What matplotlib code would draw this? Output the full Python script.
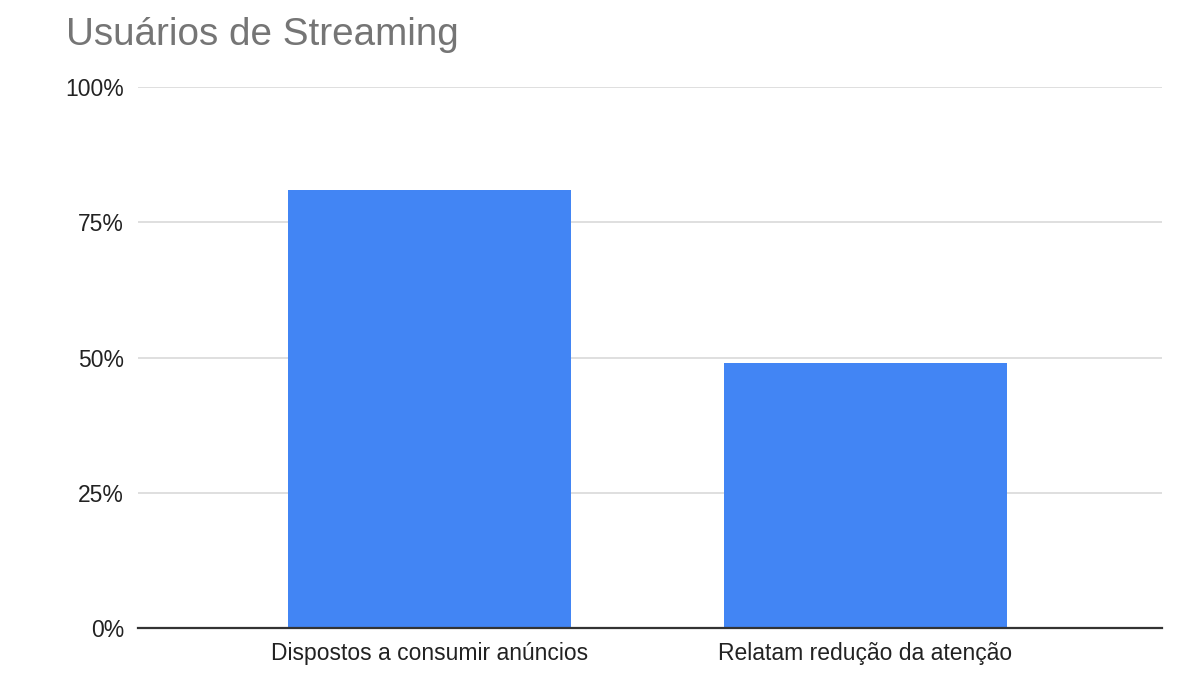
import matplotlib.pyplot as plt
from matplotlib.ticker import FuncFormatter

# dados
categorias = ['Dispostos a consumir anúncios', 'Relatam redução da atenção']
valores = [81, 49]
yticks = [0, 25, 50, 75, 100]

plt.rcParams['font.family'] = ['Liberation Sans', 'DejaVu Sans']

fig = plt.figure(figsize=(12, 6.75), dpi=100)
ax = fig.add_axes([0.115, 0.0696, 0.853, 0.8015])

x = range(len(categorias))
ax.bar(x, valores, width=0.65, color='#4285F4', zorder=3)

ax.set_xlim(-0.67, 1.68)
ax.set_ylim(0, 100)
ax.set_yticks(yticks)
ax.yaxis.set_major_formatter(FuncFormatter(lambda v, p: f'{v:.0f}%'))
ax.set_xticks(list(x))
ax.set_xticklabels(categorias)

ax.grid(axis='y', color='#d9d9d9', linewidth=1.2, zorder=0)
for s in ['top', 'right', 'left']:
    ax.spines[s].set_visible(False)
ax.spines['bottom'].set_color('#333333')
ax.spines['bottom'].set_linewidth(1.6)
ax.spines['bottom'].set_zorder(4)

ax.tick_params(axis='both', length=0, labelsize=16.5, colors='#222222')
ax.tick_params(axis='y', pad=10)
ax.tick_params(axis='x', pad=10)

fig.text(0.055, 0.933, 'Usuários de Streaming', fontsize=27.8, color='#757575',
         ha='left', va='baseline')

fig.savefig('out.png', dpi=100, facecolor='white')
